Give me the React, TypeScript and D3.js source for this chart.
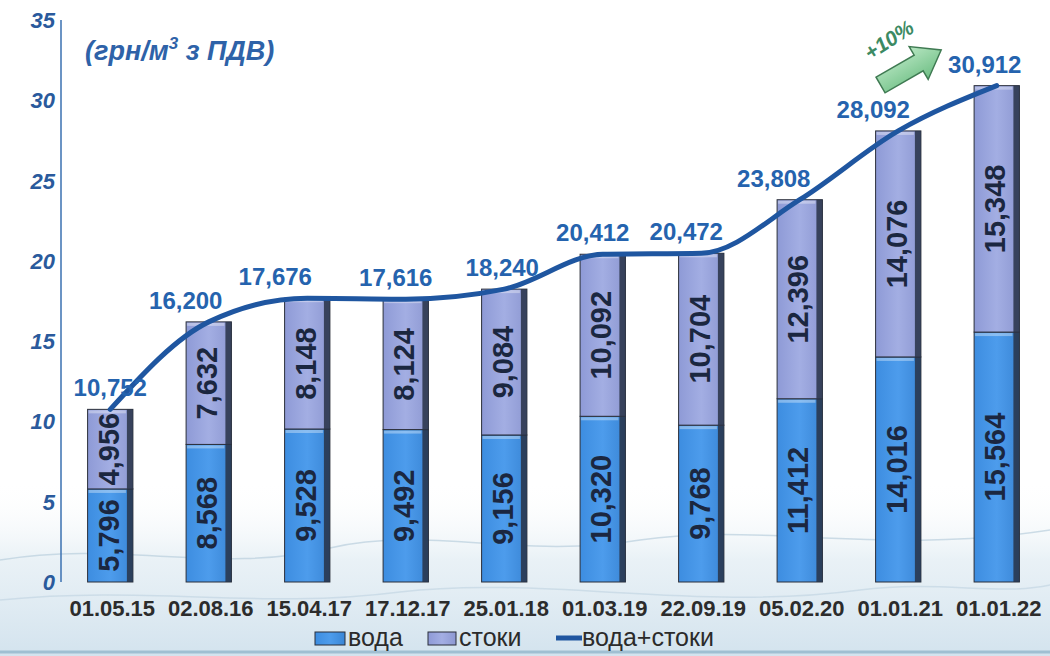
import React from "react";
import * as d3 from "d3";

const categories = ["01.05.15", "02.08.16", "15.04.17", "17.12.17", "25.01.18", "01.03.19", "22.09.19", "05.02.20", "01.01.21", "01.01.22"];
const voda = [5.796, 8.568, 9.528, 9.492, 9.156, 10.32, 9.768, 11.412, 14.016, 15.564];
const stoky = [4.956, 7.632, 8.148, 8.124, 9.084, 10.092, 10.704, 12.396, 14.076, 15.348];
const totals = [10.752, 16.2, 17.676, 17.616, 18.24, 20.412, 20.472, 23.808, 28.092, 30.912];
const yTicks = [0, 5, 10, 15, 20, 25, 30, 35];
const legendLabels = ["вода", "стоки", "вода+стоки"];
const unitMain = "(грн/м";
const unitSup = "3";
const unitTail = " з ПДВ)";
const growthLabel = "+10%";
// horizontal nudges of the total labels, as placed in the reference
const totalLabelDx = [0, -23, -32, -10, -2, -10, -15, -26, -25, -12];

const W = 1050;
const H = 656;
const FONT = "'Liberation Sans', Arial, sans-serif";
const fmt = (v: number) => v.toFixed(3).replace(".", ",");

export default function App() {
  const x = d3.scaleBand<string>().domain(categories).range([61, 1046]).paddingInner(0.54).paddingOuter(0.27);
  const y = d3.scaleLinear().domain([0, 35]).range([582, 20]);
  const bw = x.bandwidth();
  const cx = (i: number) => (x(categories[i]) as number) + bw / 2;

  const line = d3
    .line<number>()
    .x((_, i) => cx(i))
    .y((d) => y(d))
    .curve(d3.curveMonotoneX);

  const Bar = ({ i, v0, v1, fill }: { i: number; v0: number; v1: number; fill: string }) => {
    const x0 = x(categories[i]) as number;
    const top = y(v1);
    const h = y(v0) - y(v1);
    return (
      <g>
        <rect x={x0} y={top} width={bw} height={h} fill={`url(#${fill})`} stroke="#2b2f3a" strokeWidth={1} />
        <rect x={x0 + bw - 6} y={top} width={6} height={h} fill="#283246" opacity={0.85} />
        <rect x={x0 + 1} y={top + 1} width={bw - 8} height={3} fill="#ffffff" opacity={0.35} />
      </g>
    );
  };

  return (
    <div style={{ position: "absolute", left: 0, top: 0 }}>
      <svg width={W} height={H} style={{ display: "block", background: "#ffffff" }} fontFamily={FONT}>
        <defs>
          <linearGradient id="bgGrad" x1="0" y1="0" x2="0" y2="1">
            <stop offset="0" stopColor="#ffffff" stopOpacity={0} />
            <stop offset="0.45" stopColor="#e4eef4" stopOpacity={0.8} />
            <stop offset="1" stopColor="#d3e3ee" stopOpacity={1} />
          </linearGradient>
          <linearGradient id="vodaGrad" x1="0" y1="0" x2="1" y2="0">
            <stop offset="0" stopColor="#3d8de0" />
            <stop offset="0.5" stopColor="#4d9cec" />
            <stop offset="1" stopColor="#3a86d6" />
          </linearGradient>
          <linearGradient id="stokyGrad" x1="0" y1="0" x2="1" y2="0">
            <stop offset="0" stopColor="#8e9ad6" />
            <stop offset="0.5" stopColor="#a3aee3" />
            <stop offset="1" stopColor="#8d98d2" />
          </linearGradient>
          <linearGradient id="arrowGrad" x1="0" y1="0" x2="0" y2="1">
            <stop offset="0" stopColor="#b7e6c2" />
            <stop offset="1" stopColor="#6fbf85" />
          </linearGradient>
        </defs>

        <rect x={0} y={480} width={W} height={H - 480} fill="url(#bgGrad)" />
        <path d="M0,560 C120,540 220,575 330,548 C430,525 520,560 640,540 C760,522 880,556 1050,530" fill="none" stroke="#b9cfdd" strokeWidth={1.5} opacity={0.7} />
        <path d="M0,600 C150,585 260,610 400,592 C540,575 700,612 860,590 C940,580 1000,596 1050,585" fill="none" stroke="#c3d6e2" strokeWidth={1.5} opacity={0.7} />
        <line x1={0} x2={W} y1={652} y2={652} stroke="#9fbfd2" strokeWidth={3} />

        {/* y axis */}
        <line x1={61} x2={61} y1={20} y2={582} stroke="#3a70b0" strokeWidth={1.5} />
        {yTicks.map((t) => (
          <text key={t} x={55} y={y(t) + 8} textAnchor="end" fontSize={22} fontWeight="bold" fontStyle="italic" fill="#2a5a9c">
            {t}
          </text>
        ))}

        <text x={85} y={60} fontSize={27} fontWeight="bold" fontStyle="italic" fill="#2e62a8">
          {unitMain}
          <tspan fontSize={17} dy={-11}>{unitSup}</tspan>
          <tspan dy={11}>{unitTail}</tspan>
        </text>

        {/* bars */}
        {categories.map((c, i) => (
          <g key={c}>
            <Bar i={i} v0={0} v1={voda[i]} fill="vodaGrad" />
            <Bar i={i} v0={voda[i]} v1={voda[i] + stoky[i]} fill="stokyGrad" />
          </g>
        ))}

        {/* segment labels */}
        {categories.map((c, i) => {
          const c1 = (y(0) + y(voda[i])) / 2;
          const c2 = (y(voda[i]) + y(voda[i] + stoky[i])) / 2;
          const px = cx(i) - 2;
          return (
            <g key={"l" + c} fontSize={29} fontWeight="bold" fill="#1b2740">
              <text transform={`translate(${px},${c1}) rotate(-90)`} textAnchor="middle" dy="0.36em">
                {fmt(voda[i])}
              </text>
              <text transform={`translate(${px},${c2}) rotate(-90)`} textAnchor="middle" dy="0.36em">
                {fmt(stoky[i])}
              </text>
            </g>
          );
        })}

        {/* total line */}
        <path d={line(totals) as string} fill="none" stroke="#1f56a0" strokeWidth={5} strokeLinejoin="round" strokeLinecap="round" />

        {totals.map((t, i) => (
          <text key={"t" + i} x={cx(i) + totalLabelDx[i]} y={y(t) - 13} textAnchor="middle" fontSize={24} fontWeight="bold" fill="#2563ae">
            {fmt(t)}
          </text>
        ))}

        {/* growth arrow */}
        <g transform="translate(910,68) rotate(-30)">
          <path d="M-34,-9 L10,-9 L10,-19 L36,0 L10,19 L10,9 L-34,9 Z" fill="url(#arrowGrad)" stroke="#3f7a52" strokeWidth={1.5} />
        </g>
        <text transform="translate(893,46) rotate(-33)" textAnchor="middle" fontSize={21} fontWeight="bold" fontStyle="italic" fill="#3b8a63">
          {growthLabel}
        </text>

        {/* x labels */}
        {categories.map((c, i) => (
          <text key={"x" + c} x={cx(i) + 2} y={616} textAnchor="middle" fontSize={22} fontWeight="bold" fill="#2c2c2c">
            {c}
          </text>
        ))}

        {/* legend */}
        <g fontSize={25} fill="#2b2b2b">
          <rect x={315} y={632} width={30} height={13} fill="url(#vodaGrad)" stroke="#2b2f3a" strokeWidth={1} />
          <text x={348} y={646}>{legendLabels[0]}</text>
          <rect x={428} y={632} width={28} height={13} fill="url(#stokyGrad)" stroke="#2b2f3a" strokeWidth={1} />
          <text x={459} y={646}>{legendLabels[1]}</text>
          <line x1={556} x2={582} y1={638} y2={638} stroke="#1f56a0" strokeWidth={5} />
          <text x={582} y={646}>{legendLabels[2]}</text>
        </g>
      </svg>
    </div>
  );
}
